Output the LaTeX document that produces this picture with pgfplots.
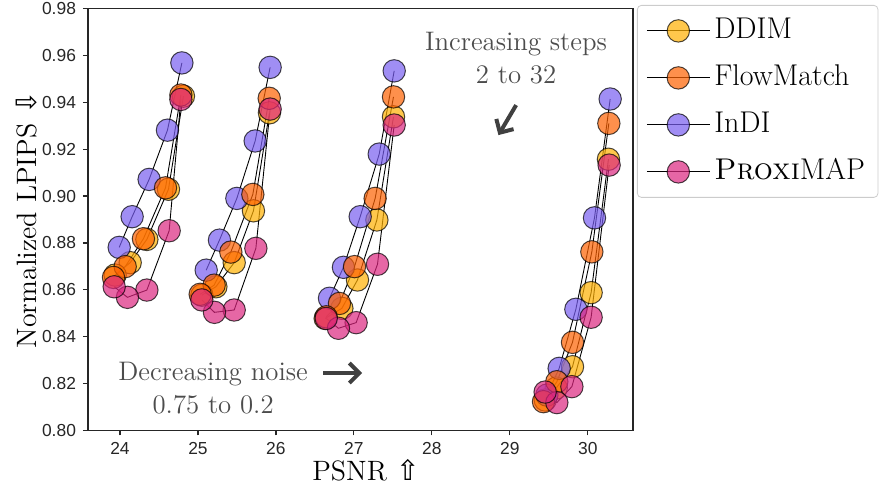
\documentclass[border=0pt]{standalone}
\usepackage{fontspec}
\usepackage{pgfplots}
\pgfplotsset{compat=1.18}
\usetikzlibrary{arrows.meta}
\newfontfamily\tickfont{Liberation Sans}
\newfontfamily\symfont{DejaVu Sans}
\definecolor{cddim}{HTML}{FFB000}
\definecolor{cflow}{HTML}{FE6100}
\definecolor{cindi}{HTML}{785EF0}
\definecolor{cprox}{HTML}{DC267F}
\pgfplotsset{
  meth/.style={black, line width=0.45pt, mark=*, mark size=5.6pt, unbounded coords=jump,
    mark options={solid, fill=#1, draw=black, line width=0.5pt, opacity=0.7}},
}

\begin{document}
\begin{tikzpicture}
\begin{axis}[
  scale only axis, width=272.5pt, height=211pt,
  xmin=23.59, xmax=30.58, ymin=0.80, ymax=0.98,
  xtick={24,25,26,27,28,29,30},
  ytick={0.80,0.82,0.84,0.86,0.88,0.90,0.92,0.94,0.96,0.98},
  yticklabel style={/pgf/number format/fixed, /pgf/number format/fixed zerofill,
    /pgf/number format/precision=2},
  tick pos=left, tick align=outside, major tick length=2.5pt,
  axis line style={line width=0.6pt, black!85},
  every tick/.style={black!85, line width=0.6pt},
  tick label style={font=\tickfont\fontsize{8.7}{10}\selectfont, text=black!85,
    /pgf/number format/assume math mode=true},
  label style={font=\fontsize{14}{16}\selectfont},
  xlabel={PSNR {\symfont ⇧}}, ylabel={Normalized LPIPS {\symfont ⇩}},
  xlabel style={at={(axis description cs:0.51,-0.095)}, anchor=center},
  ylabel style={at={(axis description cs:-0.113,0.5)}, anchor=center},
  legend image code/.code={\draw[mark repeat=2, mark phase=2, #1]
    plot coordinates {(0pt,0pt) (15.75pt,0pt) (31.5pt,0pt)};},
  legend cell align=left,
  legend style={at={(1.0073,1.0083)}, anchor=north west, draw=black!20, fill=white,
    rounded corners=2pt, font=\fontsize{15}{18}\selectfont, row sep=5pt,
    inner xsep=4.5pt, inner ysep=3.5pt,
    nodes={inner sep=2pt, text height=11pt, text depth=3.5pt}},
]
\addlegendimage{meth=cddim}\addlegendentry{DDIM}
\addlegendimage{meth=cflow}\addlegendentry{FlowMatch}
\addlegendimage{meth=cindi}\addlegendentry{InDI}
\addlegendimage{meth=cprox}\addlegendentry{\textsc{Proxi}MAP}

% each method: four noise levels, steps 2 -> 32 within a level
\addplot[meth=cddim, forget plot] coordinates {
  (24.814,0.9426) (24.622,0.9029) (24.345,0.8815) (24.131,0.8716) (23.938,0.8663) (24,nan)
  (25.917,0.9355) (25.712,0.8937) (25.465,0.8716) (25.230,0.8613) (25.050,0.8577) (25,nan)
  (27.508,0.9338) (27.295,0.8898) (27.046,0.8642) (26.846,0.8521) (26.632,0.8478) (27,nan)
  (30.265,0.9157) (30.043,0.8588) (29.804,0.8272) (29.595,0.8181) (29.454,0.8130)};
\addplot[meth=cindi, forget plot] coordinates {
  (24.794,0.9568) (24.609,0.9281) (24.374,0.9071) (24.156,0.8912) (23.990,0.8781) (24,nan)
  (25.926,0.9549) (25.734,0.9235) (25.499,0.8990) (25.276,0.8812) (25.106,0.8684) (25,nan)
  (27.517,0.9534) (27.325,0.9179) (27.081,0.8912) (26.866,0.8696) (26.687,0.8564) (27,nan)
  (30.287,0.9414) (30.086,0.8907) (29.847,0.8517) (29.633,0.8265) (29.475,0.8151)};
\addplot[meth=cflow, forget plot] coordinates {
  (24.781,0.9431) (24.584,0.9035) (24.301,0.8818) (24.067,0.8699) (23.917,0.8653) (24,nan)
  (25.914,0.9417) (25.704,0.9007) (25.422,0.8761) (25.208,0.8620) (25.029,0.8581) (25,nan)
  (27.508,0.9423) (27.273,0.8990) (27.008,0.8699) (26.815,0.8542) (26.645,0.8485) (27,nan)
  (30.270,0.9310) (30.052,0.8762) (29.804,0.8376) (29.603,0.8208) (29.432,0.8123)};
\addplot[meth=cprox, forget plot] coordinates {
  (24.781,0.9412) (24.631,0.8852) (24.345,0.8599) (24.096,0.8568) (23.926,0.8613) (24,nan)
  (25.926,0.9371) (25.743,0.8777) (25.465,0.8514) (25.212,0.8504) (25.050,0.8557) (25,nan)
  (27.517,0.9303) (27.303,0.8709) (27.029,0.8460) (26.802,0.8436) (26.645,0.8478) (27,nan)
  (30.274,0.9132) (30.043,0.8483) (29.796,0.8187) (29.603,0.8119) (29.453,0.8164)};

\node[align=center, text=black!70, font=\fontsize{13.4}{16.5}\selectfont]
  at (axis cs:29.08,0.9588) {Increasing steps\\2 to 32};
\node[align=center, text=black!70, font=\fontsize{13.4}{16.5}\selectfont]
  at (axis cs:25.195,0.8181) {Decreasing noise\\0.75 to 0.2};
\draw[black!75, line width=2pt, -{Straight Barb[length=5pt, width=10pt]}]
  (axis cs:26.606,0.8245) -- (axis cs:27.106,0.8245);
\draw[black!75, line width=2pt, -{Straight Barb[length=5pt, width=10pt]}]
  (axis cs:29.081,0.9388) -- (axis cs:28.854,0.9260);
\end{axis}
\pgfresetboundingbox
\path (-44pt,-27.75pt) rectangle (397.5pt,215.25pt);
\end{tikzpicture}
\end{document}
